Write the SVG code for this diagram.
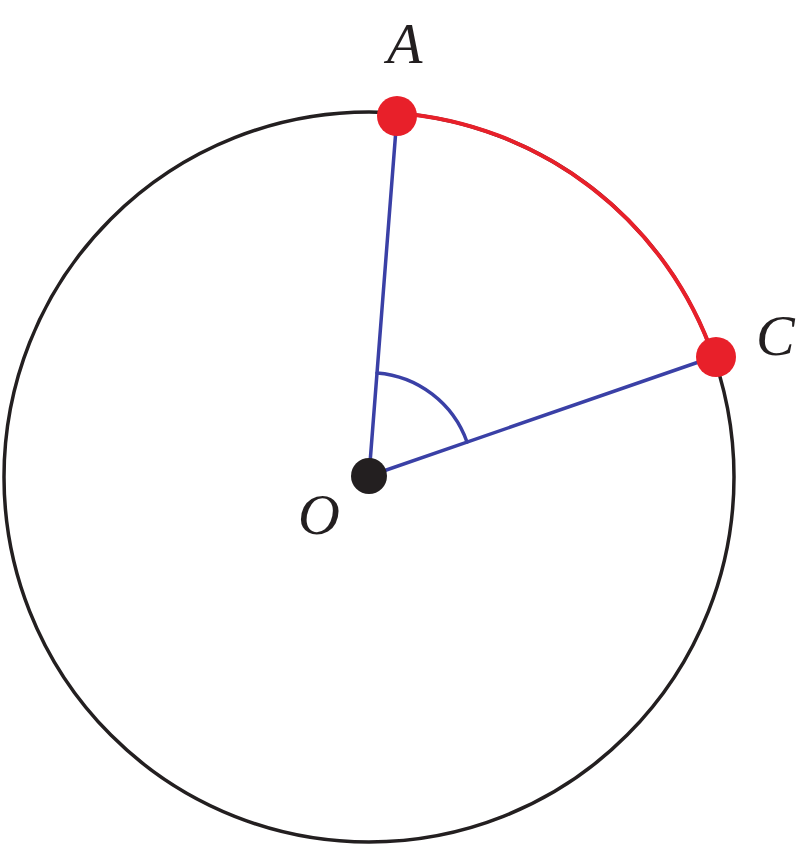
<svg xmlns="http://www.w3.org/2000/svg" width="800" height="849" viewBox="0 0 800 849">
<style>
.lbl{font-family:"Liberation Serif","Times New Roman",serif;font-style:italic;font-size:58px;fill:#231f20}
.circ{fill:none;stroke:#231f20;stroke-width:3.5}
.arcA{fill:none;stroke:#e8202a;stroke-width:4}
.rad{fill:none;stroke:#3a40a6;stroke-width:3.5;stroke-linecap:round}
.pt{fill:#e8202a}
</style>
<rect width="800" height="849" fill="#fff"/>
<g id="circle"><circle class="circ" cx="369" cy="477" r="365"/></g>
<g id="connectors">
<path class="arcA" d="M397 113 A365 365 0 0 1 714 358"/>
<line class="rad" x1="369" y1="476" x2="397" y2="116"/>
<line class="rad" x1="369" y1="476" x2="716" y2="356"/>
<path class="rad" d="M377 373 A104 104 0 0 1 467 442"/>
</g>
<g id="O"><circle cx="369" cy="476" r="18" fill="#231f20"/><text class="lbl" x="298" y="534">O</text></g>
<g id="A"><circle class="pt" cx="397" cy="116" r="20"/><text class="lbl" x="387" y="63">A</text></g>
<g id="C"><circle class="pt" cx="716" cy="357" r="20"/><text class="lbl" x="756" y="355">C</text></g>
</svg>
